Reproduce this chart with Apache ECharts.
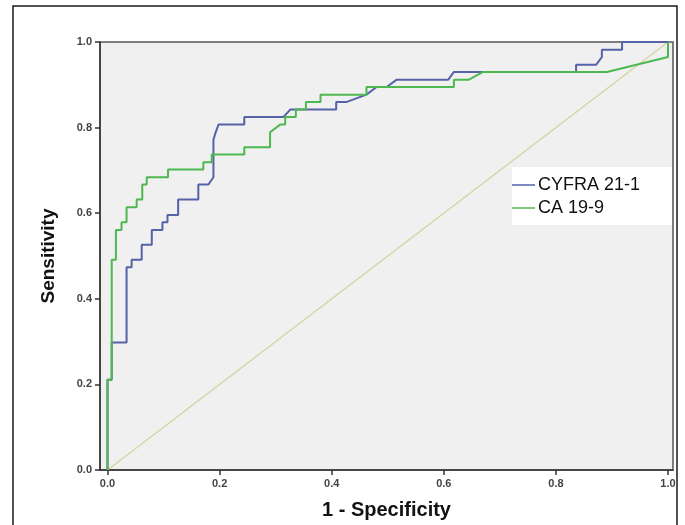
<!DOCTYPE html>
<html>
<head>
<meta charset="utf-8">
<script src="https://cdn.jsdelivr.net/npm/echarts@6/dist/echarts.min.js"></script>
<style>
html,body{margin:0;padding:0;background:#fff;}
#chart{width:685px;height:525px;}
</style>
</head>
<body>
<div id="chart"></div>
<script>
// ROC curve data: [1 - Specificity, Sensitivity]
var seriesNames = ['CYFRA 21-1', 'CA 19-9'];
var cyfraPoints = [
  [0,0],[0,0.211],[0.0075,0.211],[0.0075,0.298],[0.034,0.298],[0.034,0.474],
  [0.043,0.474],[0.043,0.491],[0.061,0.491],[0.061,0.526],[0.079,0.526],[0.079,0.561],
  [0.098,0.561],[0.098,0.579],[0.107,0.579],[0.107,0.596],[0.126,0.596],[0.126,0.632],
  [0.162,0.632],[0.162,0.667],[0.180,0.667],[0.189,0.684],[0.189,0.772],[0.193,0.789],
  [0.198,0.807],[0.244,0.807],[0.244,0.825],[0.314,0.825],[0.326,0.842],[0.408,0.842],
  [0.408,0.860],[0.427,0.860],[0.462,0.877],[0.480,0.895],[0.498,0.895],[0.516,0.912],
  [0.608,0.912],[0.618,0.930],[0.836,0.930],[0.836,0.947],[0.872,0.947],[0.882,0.965],
  [0.882,0.982],[0.918,0.982],[0.918,1.0],[1.0,1.0]
];
var ca199Points = [
  [0,0],[0,0.211],[0.0075,0.211],[0.0075,0.491],[0.015,0.491],[0.015,0.561],
  [0.025,0.561],[0.025,0.579],[0.034,0.579],[0.034,0.614],[0.052,0.614],[0.052,0.632],
  [0.062,0.632],[0.062,0.667],[0.070,0.667],[0.070,0.684],[0.108,0.684],[0.108,0.702],
  [0.171,0.702],[0.171,0.719],[0.186,0.719],[0.186,0.737],[0.244,0.737],[0.244,0.754],
  [0.290,0.754],[0.290,0.789],[0.308,0.807],[0.317,0.807],[0.317,0.825],[0.336,0.825],
  [0.336,0.842],[0.354,0.842],[0.354,0.860],[0.380,0.860],[0.380,0.877],[0.462,0.877],
  [0.462,0.895],[0.618,0.895],[0.618,0.912],[0.645,0.912],[0.670,0.930],[0.891,0.930],
  [1.0,0.965],[1.0,1.0]
];
var referencePoints = [[0,0],[1,1]];
var tickValues = [0, 0.2, 0.4, 0.6, 0.8, 1.0];
var xAxisTitle = '1 - Specificity';
var yAxisTitle = 'Sensitivity';

var chart = echarts.init(document.getElementById('chart'), null, {renderer:'canvas'});
var fontFam = '"Liberation Sans", Arial, sans-serif';
var option = {
  animation: false,
  backgroundColor: '#ffffff',
  grid: {
    left: 100, top: 42, right: 12, bottom: 52,
    show: true, backgroundColor: '#f0f0f0', borderColor: '#555', borderWidth: 1.5
  },
  legend: {
    data: seriesNames,
    orient: 'vertical',
    left: 512, top: 176,
    padding: 0,
    itemGap: 5,
    itemWidth: 23, itemHeight: 1.5,
    icon: 'rect',
    textStyle: {fontFamily: fontFam, fontSize: 18, color: '#111', padding: [0,0,0,-2]}
  },
  xAxis: {
    type: 'value',
    min: -0.0134, max: 1.0089,
    name: xAxisTitle,
    nameLocation: 'middle',
    nameGap: 30,
    nameTextStyle: {fontFamily: fontFam, fontSize: 20, fontWeight: 'bold', color: '#111'},
    axisLine: {show: true, onZero: false, lineStyle: {color: '#333', width: 1.5}},
    axisTick: {show: true, customValues: tickValues, length: 5, lineStyle: {color: '#333', width: 1.5}},
    axisLabel: {
      customValues: tickValues, margin: 8,
      fontFamily: fontFam, fontSize: 11, fontWeight: 'bold', color: '#444',
      formatter: function (v) { return v.toFixed(1); }
    },
    splitLine: {show: false}
  },
  yAxis: {
    type: 'value',
    min: 0, max: 1, interval: 0.2,
    name: yAxisTitle,
    nameLocation: 'middle',
    nameRotate: 90,
    nameGap: 42,
    nameTextStyle: {fontFamily: fontFam, fontSize: 19, fontWeight: 'bold', color: '#111'},
    axisLine: {show: true, onZero: false, lineStyle: {color: '#333', width: 1.5}},
    axisTick: {show: true, length: 5, lineStyle: {color: '#333', width: 1.5}},
    axisLabel: {
      margin: 8, fontFamily: fontFam, fontSize: 11, fontWeight: 'bold', color: '#444',
      formatter: function (v) { return v.toFixed(1); }
    },
    splitLine: {show: false}
  },
  graphic: [
    {type: 'rect', z: 3, shape: {x: 512, y: 167, width: 160, height: 58}, style: {fill: '#ffffff'}},
    {type: 'rect', z: 100, shape: {x: 678, y: 0, width: 10, height: 525}, style: {fill: '#ffffff'}},
    {type: 'rect', z: 101, shape: {x: 13, y: 6, width: 664, height: 530}, style: {fill: null, stroke: '#1a1a1a', lineWidth: 1.5}}
  ],
  series: [
    {
      name: 'ref', type: 'line', data: referencePoints, showSymbol: false, silent: true,
      lineStyle: {color: '#d2d29c', width: 1.2}, z: 1
    },
    {
      name: seriesNames[0], type: 'line', data: cyfraPoints, showSymbol: false,
      itemStyle: {color: '#5562a8'},
      lineStyle: {color: '#5562a8', width: 2}, z: 2
    },
    {
      name: seriesNames[1], type: 'line', data: ca199Points, showSymbol: false,
      itemStyle: {color: '#4cb84f'},
      lineStyle: {color: '#4cb84f', width: 2}, z: 2
    }
  ]
};
chart.setOption(option);
</script>
</body>
</html>
